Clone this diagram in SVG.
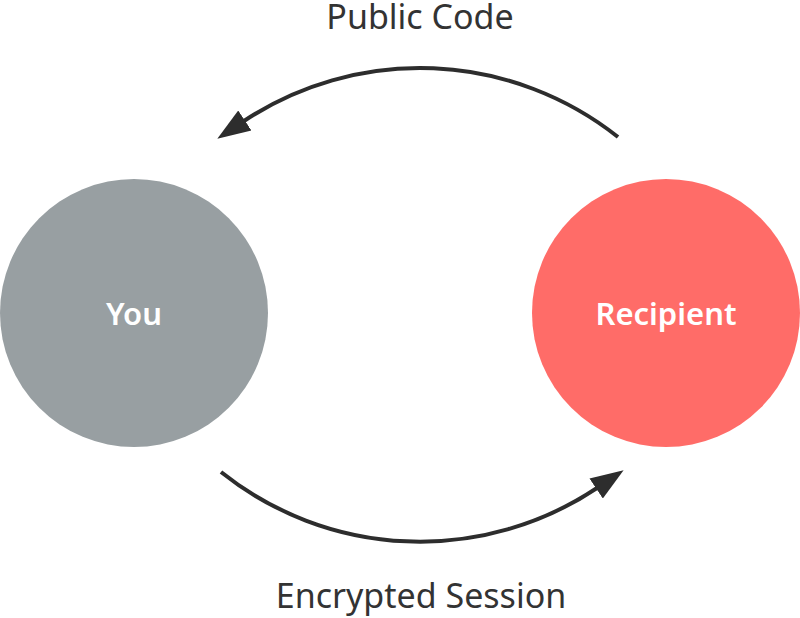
<svg xmlns="http://www.w3.org/2000/svg" width="800" height="618" viewBox="0 0 800 618">
<style>
.lbl{font-family:"Noto Sans","Open Sans","Liberation Sans",sans-serif;font-size:34px;fill:#333;text-anchor:middle}
.node{font-family:"Noto Sans","Open Sans","Liberation Sans",sans-serif;font-size:31px;font-weight:600;fill:#fff;text-anchor:middle}
.edge{fill:none;stroke:#2d2d2d;stroke-width:4}
</style>
<defs>
<marker id="ah" markerUnits="userSpaceOnUse" markerWidth="34" markerHeight="26" viewBox="0 0 34 26" refX="1" refY="13" orient="auto">
<path d="M0,1 L33,13 L0,25 z" fill="#2d2d2d"/>
</marker>
</defs>
<rect width="800" height="618" fill="#fff"/>
<g id="you">
<circle cx="134" cy="313" r="134" fill="#989fa2"/>
<text class="node" x="134" y="325">You</text>
</g>
<g id="recipient">
<circle cx="666" cy="313" r="134" fill="#ff6c68"/>
<text class="node" x="666" y="325">Recipient</text>
</g>
<g id="connectors">
<path class="edge" d="M618,137 A319,319 0 0,0 244,121" marker-end="url(#ah)"/>
<path class="edge" d="M221,472 A319,319 0 0,0 597,488" marker-end="url(#ah)"/>
<text class="lbl" x="420" y="29">Public Code</text>
<text class="lbl" x="421" y="608">Encrypted Session</text>
</g>
</svg>
